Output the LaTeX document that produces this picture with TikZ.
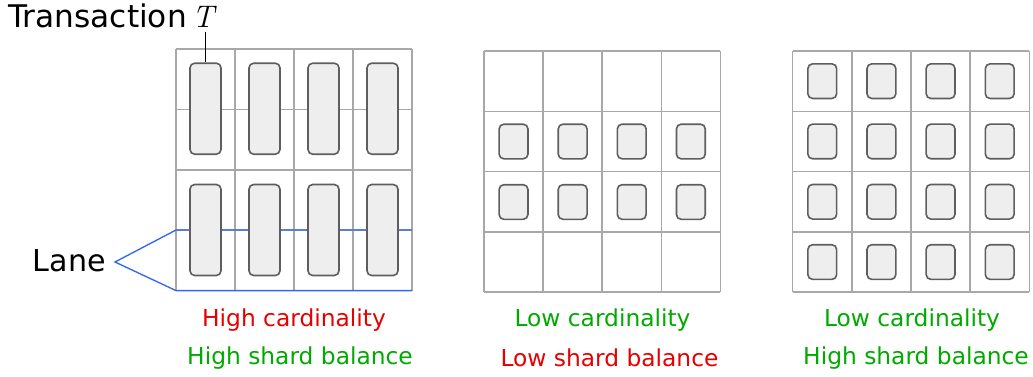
\documentclass[tikz,border=0pt]{standalone}
\usepackage{fontspec}
\setmainfont{DejaVu Sans}
\newfontfamily\lmrfont{Latin Modern Roman}
\definecolor{gridgray}{HTML}{A8A8A8}
\definecolor{boxgray}{HTML}{5E5E5E}
\definecolor{boxfill}{HTML}{EEEEEE}
\definecolor{laneblue}{HTML}{3366EE}
\definecolor{badred}{HTML}{E60000}
\definecolor{goodgreen}{HTML}{00AA00}
\begin{document}
\begin{tikzpicture}[x=0.75pt,y=-0.75pt,
  gridline/.style={draw=gridgray,line width=1.1pt},
  txbox/.style={draw=boxgray,fill=boxfill,rounded corners=3.5pt,line width=1.2pt,inner sep=0pt},
  tallbox/.style={txbox,minimum width=31*0.75pt,minimum height=91*0.75pt},
  smallbox/.style={txbox,minimum width=28.8*0.75pt,minimum height=34.6*0.75pt},
  laneline/.style={draw=laneblue,line width=1pt},
  biglabel/.style={font=\fontsize{23.4}{28}\selectfont,inner sep=0pt},
  lanelabel/.style={font=\fontsize{22.6}{27}\selectfont,inner sep=0pt},
  caption/.style={font=\fontsize{17.5}{21}\selectfont,inner sep=0pt,anchor=base},
  redcap/.style={caption,text=badred},
  greencap/.style={caption,text=goodgreen}]
\useasboundingbox (0,0) rectangle (1033,376);
% grids
\foreach \gx/\gy/\w/\h in {176/49/59/60.4, 484/51/59.1/60.3, 792.7/51/59.15/60.3}{
  \foreach \i in {0,...,4}{
    \draw[gridline] ({\gx+\i*\w},\gy) -- ({\gx+\i*\w},{\gy+4*\h});
    \draw[gridline] (\gx,{\gy+\i*\h}) -- ({\gx+4*\w},{\gy+\i*\h});
  }
}
% lane
\node[lanelabel,anchor=base east] (lane) at (106,271) {Lane};
\coordinate (apex) at (115,262);
\coordinate (L1) at (176,230);
\coordinate (L1r) at (412,230);
\coordinate (L2) at (176,290.6);
\coordinate (L2r) at (412,290.6);
\draw[laneline] (L1r) -- (L1) -- (apex) -- (L2) -- (L2r);
% grid 1 boxes (tall)
\foreach \i in {0,...,3}{
  \node[tallbox] (a1\i) at ({176+59*(\i+0.5)},108.7) {};
  \node[tallbox] (a2\i) at ({176+59*(\i+0.5)},230) {};
}
% grid 2 boxes
\foreach \i in {0,...,3}{
  \node[smallbox] (b1\i) at ({484+59.1*(\i+0.5)},141.5) {};
  \node[smallbox] (b2\i) at ({484+59.1*(\i+0.5)},202) {};
}
% grid 3 boxes
\foreach \j in {0,...,3}{
  \foreach \i in {0,...,3}{
    \node[smallbox] (c\j\i) at ({792.7+59.15*(\i+0.5)},{51+60.3*(\j+0.5)}) {};
  }
}
% transaction label
\node[biglabel,anchor=base west] (trans) at (8,27) {Transaction\kern-3.5pt\ {\lmrfont\itshape T}};
\draw[line width=1.1pt] (a10.north) -- ([yshift=-3pt]a10.north |- trans.south);
% captions
\node[redcap] (c1a) at (294,326.5) {High cardinality};
\node[greencap] (c1b) at (300,364) {High shard balance};
\node[greencap] (c2a) at (602.5,326.5) {Low cardinality};
\node[redcap] (c2b) at (609.5,366) {Low shard balance};
\node[greencap] (c3a) at (912,326.5) {Low cardinality};
\node[greencap] (c3b) at (916,364) {High shard balance};
\end{tikzpicture}
\end{document}
